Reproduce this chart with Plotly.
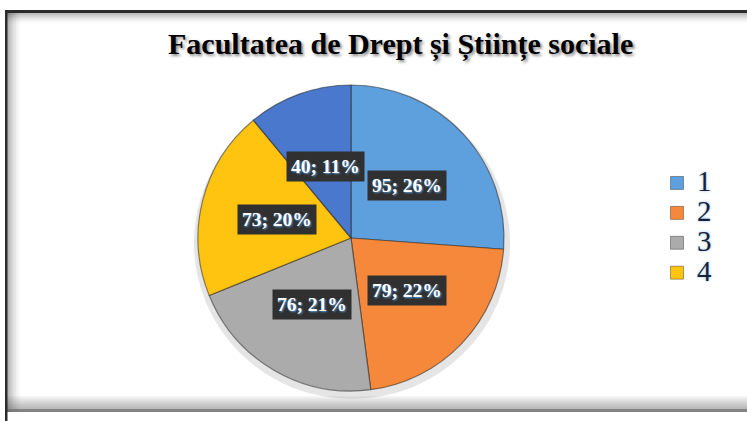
import math
import plotly.graph_objects as go

# ---- data ----
labels = ["1", "2", "3", "4", "5"]
values = [95, 79, 76, 73, 40]
colors = ["#5E9FDD", "#F5883A", "#ABABAB", "#FFC410", "#4A78CC"]
legend_labels = ["1", "2", "3", "4"]
title_text = "Facultatea de Drept și Științe sociale"

W, H = 747, 421
CX, CY, R = 351, 238, 153  # pie centre / radius in pixels (layout)


def px(x):
    return x / W


def py(y):
    return 1 - y / H


fig = go.Figure()
fig.add_trace(go.Pie(
    labels=labels, values=values, sort=False, direction="clockwise", rotation=0,
    marker=dict(colors=colors, line=dict(color="rgba(40,40,40,0.55)", width=1.2)),
    textinfo="none", showlegend=False,
    domain=dict(x=[px(CX - R), px(CX + R)], y=[py(CY + R), py(CY - R)]),
    hovertemplate="%{label}: %{value} (%{percent})<extra></extra>",
))

# legend via dummy traces (only 4 entries shown in original)
for lab, col in zip(legend_labels, colors):
    fig.add_trace(go.Scatter(
        x=[None], y=[None], mode="markers",
        name=f'<span style="font-size:29px">{lab}</span>',
        marker=dict(symbol="square", size=13, color=col,
                    line=dict(color="rgba(0,0,0,0.35)", width=1)),
    ))

# data labels computed from values
total = sum(values)
annotations = []
cum = 0
for v in values:
    mid = (cum + v / 2) / total * 2 * math.pi
    cum += v
    lx = CX + 0.5 * R * math.sin(mid)
    ly = CY - 0.5 * R * math.cos(mid)
    pct = round(v / total * 100)
    annotations.append(dict(
        x=px(lx), y=py(ly), xref="paper", yref="paper", showarrow=False,
        xanchor="center", yanchor="middle",
        text=f"<b>{v}; {pct}%</b>",
        font=dict(family="Liberation Serif", size=19.5, color="white",
                  shadow="1px 1px 2px #5B9BD5"),
        bgcolor="#303030", borderpad=4,
    ))

annotations.append(dict(
    x=px(400), y=py(44), xref="paper", yref="paper", showarrow=False,
    xanchor="center", yanchor="middle",
    text=f"<b>{title_text}</b>",
    font=dict(family="Liberation Serif", size=30, color="black",
              shadow="2px 2px 3px rgba(0,0,0,0.45)"),
))

shapes = []
# pie shadow
shapes.append(dict(type="circle", xref="paper", yref="paper", layer="below",
                   x0=px(CX - R - 4), x1=px(CX + R + 6), y0=py(CY + R + 8), y1=py(CY - R + 2),
                   fillcolor="rgba(0,0,0,0.10)", line=dict(width=0)))
# frame inner shadows
for i in range(8):
    a = 0.07 * (1 - i / 8)
    shapes.append(dict(type="rect", xref="paper", yref="paper", layer="below",
                       x0=px(7), x1=1, y0=py(12 + i * 1.5 + 1.5), y1=py(12),
                       fillcolor=f"rgba(0,0,0,{a:.3f})", line=dict(width=0)))
    shapes.append(dict(type="rect", xref="paper", yref="paper", layer="below",
                       x0=px(7), x1=px(7 + i * 1.8 + 1.8), y0=py(412), y1=py(12),
                       fillcolor=f"rgba(0,0,0,{a:.3f})", line=dict(width=0)))
for i in range(10):
    shapes.append(dict(type="rect", xref="paper", yref="paper", layer="below",
                       x0=px(7), x1=1, y0=py(412), y1=py(412 - (10 - i) * 1.6),
                       fillcolor="rgba(90,90,90,0.06)", line=dict(width=0)))
shapes.append(dict(type="rect", xref="paper", yref="paper", layer="below",
                   x0=px(7), x1=1, y0=py(412), y1=py(409),
                   fillcolor="rgba(100,100,100,0.6)", line=dict(width=0)))
# dark border lines
shapes.append(dict(type="rect", xref="paper", yref="paper",
                   x0=px(5), x1=1, y0=py(13), y1=py(10),
                   fillcolor="#2B2B2B", line=dict(width=0)))
shapes.append(dict(type="rect", xref="paper", yref="paper",
                   x0=px(5), x1=px(7.5), y0=0, y1=py(10),
                   fillcolor="#2B2B2B", line=dict(width=0)))

fig.update_layout(
    width=W, height=H, margin=dict(l=0, r=0, t=0, b=0),
    paper_bgcolor="white", plot_bgcolor="rgba(0,0,0,0)",
    xaxis=dict(visible=False), yaxis=dict(visible=False),
    showlegend=True,
    legend=dict(x=px(657), y=py(228), xanchor="left", yanchor="middle",
                bgcolor="rgba(0,0,0,0)", itemclick=False, itemdoubleclick=False,
                font=dict(family="Liberation Serif", size=20.7, color="#1A1F3A",
                          shadow="0px 0px 3px #8EC0EE")),
    annotations=annotations, shapes=shapes,
)

fig.write_html("out.html", config={"displayModeBar": False},
               post_script="document.body.style.margin='0';document.body.style.overflow='hidden';")
